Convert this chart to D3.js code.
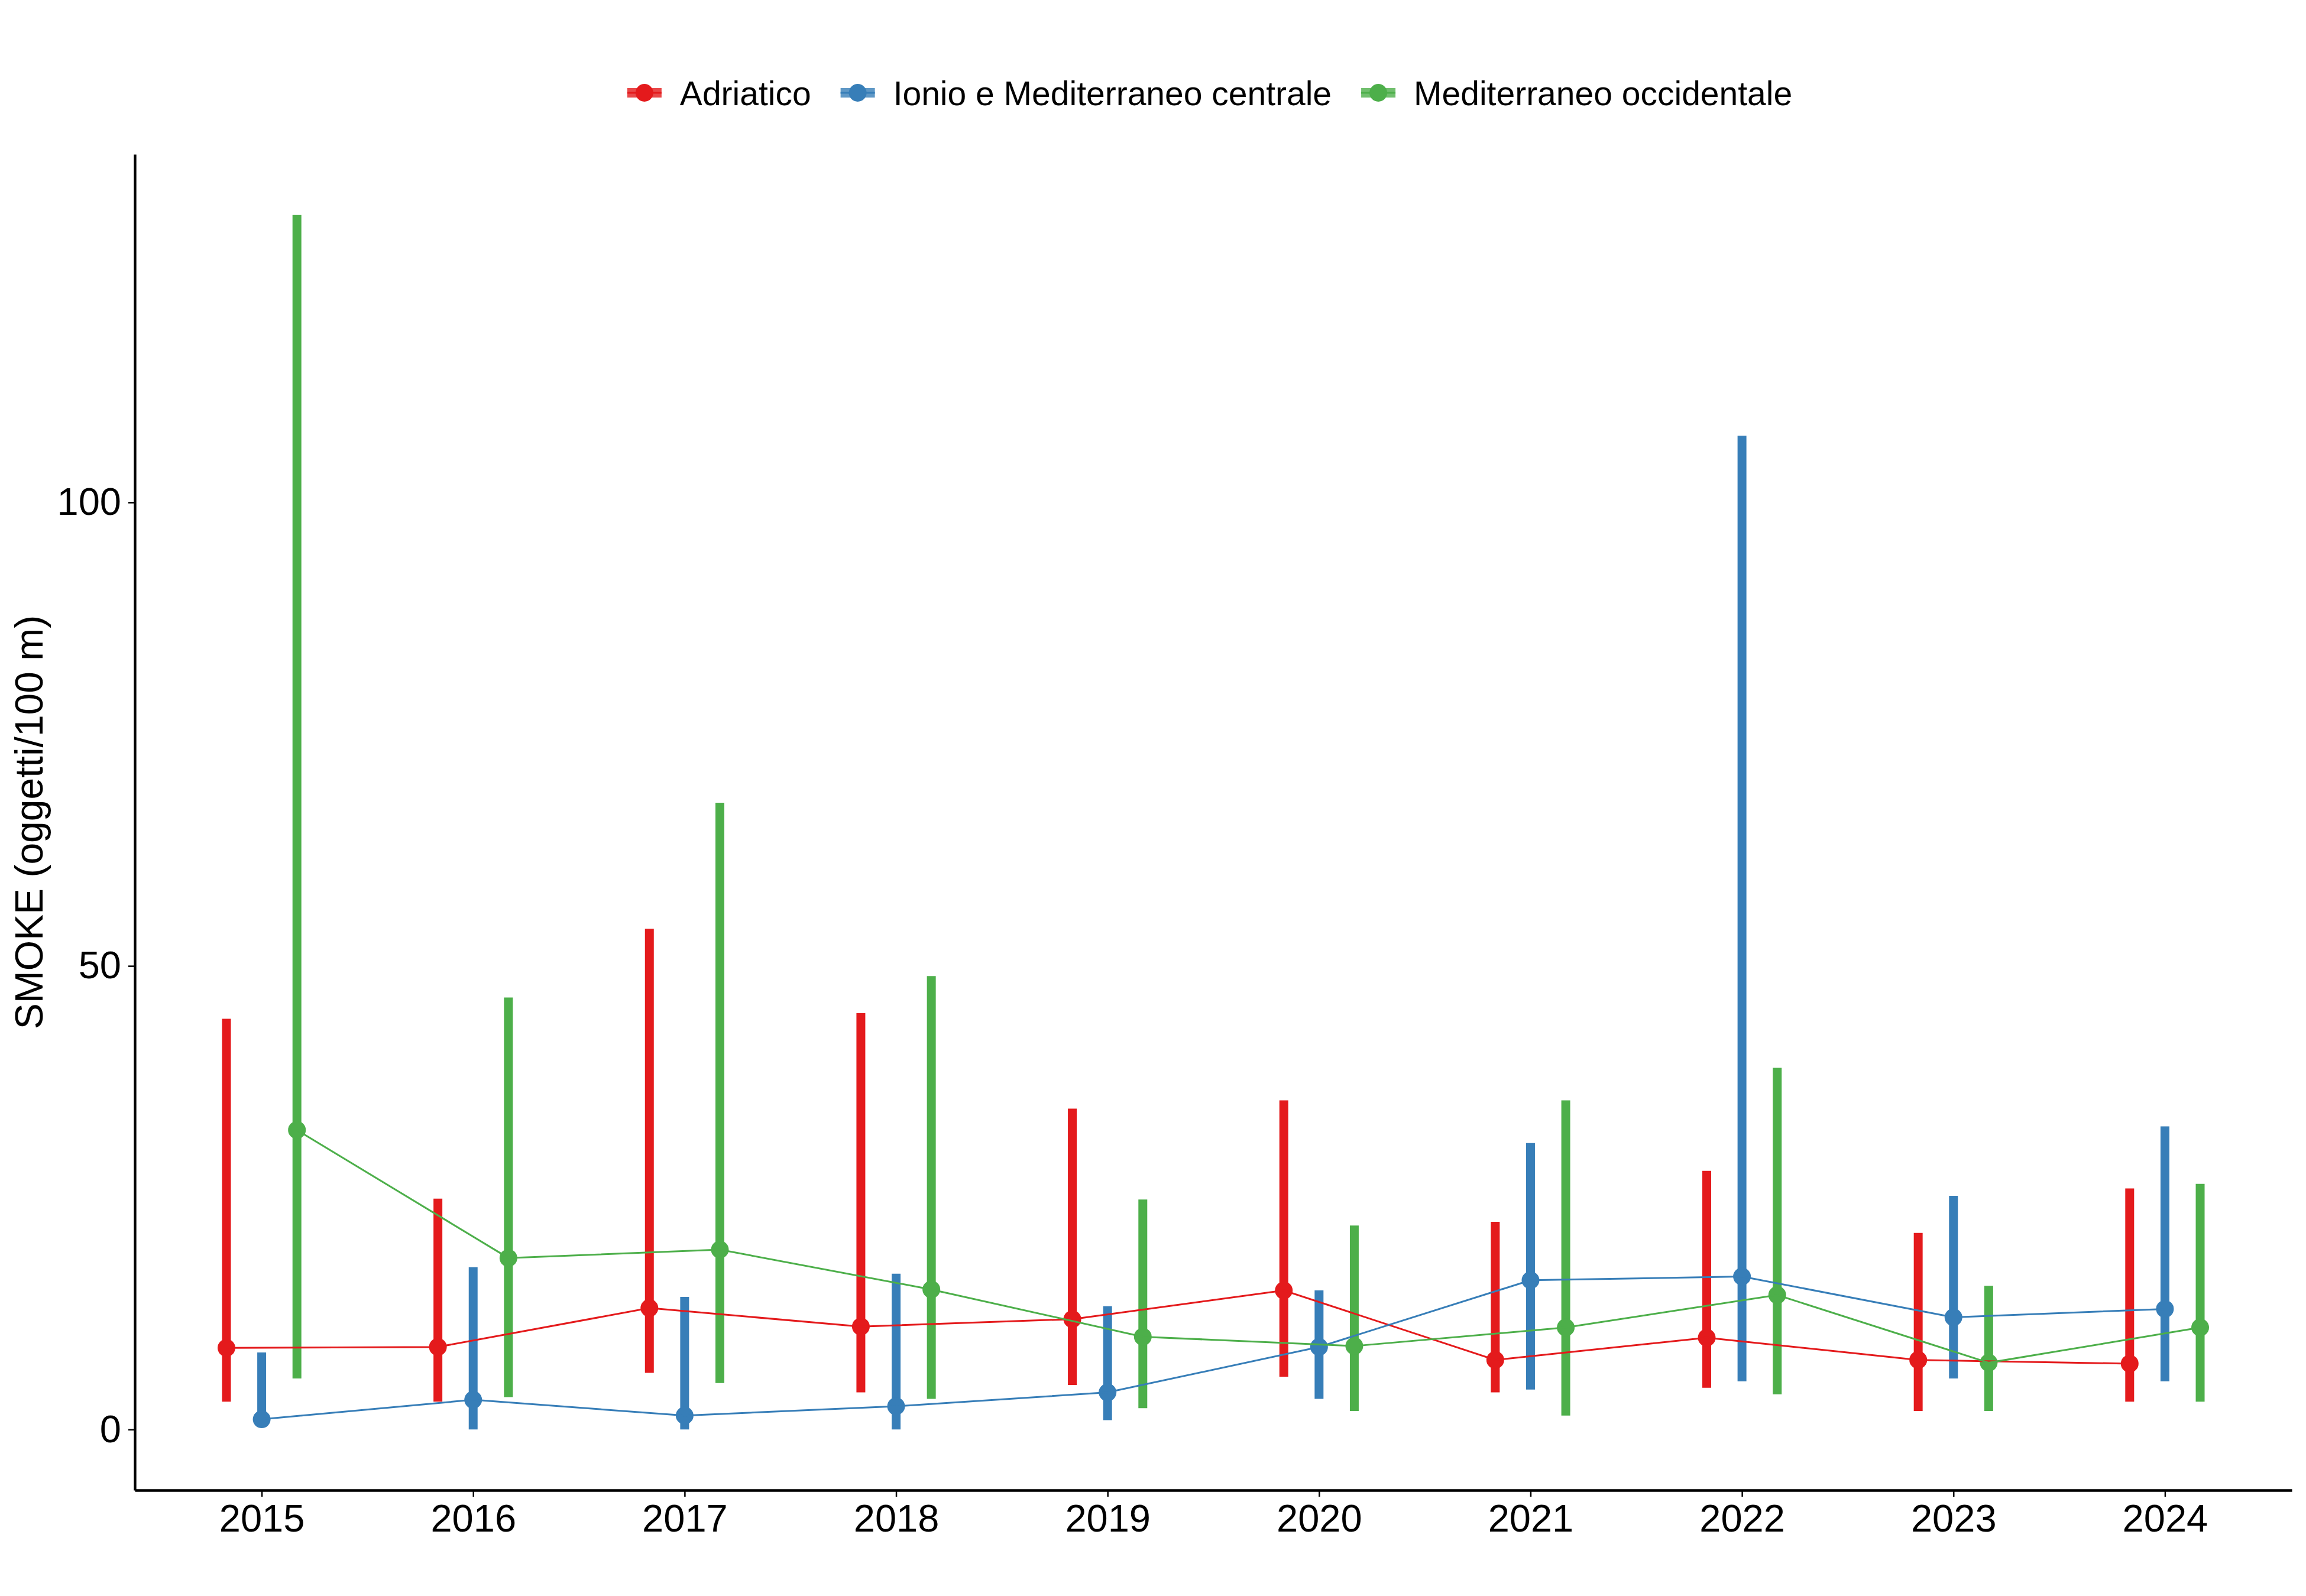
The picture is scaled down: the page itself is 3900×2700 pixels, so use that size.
<!DOCTYPE html>
<html lang="it">
<head>
    <meta charset="UTF-8">
    <title>SMOKE per regione</title>
    <script src="https://d3js.org/d3.v7.min.js"></script>
    <style>
        body { margin: 0; background: #fff; }
        svg { display: block; }
        text { font-family: "Liberation Sans", Arial, sans-serif; fill: #000; }
    </style>
</head>
<body>
    <div id="chart"></div>
    <script>
        // data
        const years = [2015, 2016, 2017, 2018, 2019, 2020, 2021, 2022, 2023, 2024];
        const regions = ["Adriatico", "Ionio e Mediterraneo centrale", "Mediterraneo occidentale"];
        const colors = ["#E41A1C", "#377EB8", "#4DAF4A"];

        const adriaticoMean = [8.8, 8.9, 13.1, 11.1, 11.9, 15.0, 7.5, 9.9, 7.5, 7.1];
        const adriaticoLow  = [3.0, 3.0, 6.1, 4.0, 4.8, 5.7, 4.0, 4.5, 2.0, 3.0];
        const adriaticoHigh = [44.3, 24.9, 54.0, 44.9, 34.6, 35.5, 22.4, 27.9, 21.2, 26.0];

        const ionioMean = [1.1, 3.2, 1.5, 2.5, 4.0, 8.9, 16.1, 16.5, 12.1, 13.0];
        const ionioLow  = [0.6, 0, 0, 0, 1.0, 3.3, 4.3, 5.2, 5.5, 5.2];
        const ionioHigh = [8.3, 17.5, 14.3, 16.8, 13.3, 15.0, 30.9, 107.2, 25.2, 32.7];

        const occMean = [32.3, 18.5, 19.4, 15.1, 10.0, 9.0, 11.0, 14.5, 7.2, 11.0];
        const occLow  = [5.5, 3.5, 5.0, 3.3, 2.3, 2.0, 1.5, 3.8, 2.0, 3.0];
        const occHigh = [131.0, 46.6, 67.6, 48.9, 24.8, 22.0, 35.5, 39.0, 15.5, 26.5];

        const yTicks = [0, 50, 100];
        const yTitle = "SMOKE (oggetti/100 m)";

        const series = [
            { name: regions[0], mean: adriaticoMean, low: adriaticoLow, high: adriaticoHigh },
            { name: regions[1], mean: ionioMean, low: ionioLow, high: ionioHigh },
            { name: regions[2], mean: occMean, low: occLow, high: occHigh }
        ];

        const W = 3900, H = 2700;
        const margin = { left: 228, right: 3876, top: 261, bottom: 2521 };

        const svg = d3.select('#chart').append('svg')
            .attr('width', W).attr('height', H);

        const x = d3.scalePoint().domain(years).range([margin.left, margin.right]).padding(0.6);
        const dodge = x.step() / 6;

        const allVals = series.flatMap(s => s.low.concat(s.high));
        const lo = d3.min(allVals), hi = d3.max(allVals);
        const pad = (hi - lo) * 0.05;
        const y = d3.scaleLinear().domain([lo - pad, hi + pad]).range([margin.bottom, margin.top]);

        const fontSize = 65;

        // x axis
        const gx = svg.append('g')
            .attr('transform', `translate(0,${margin.bottom})`)
            .call(d3.axisBottom(x).tickSize(11).tickSizeOuter(0).tickPadding(13));
        gx.select('.domain').attr('stroke-width', 4.3);
        gx.selectAll('.tick line').attr('stroke-width', 2.5);
        gx.selectAll('.tick text').style('font-size', fontSize + 'px')
            .style('font-family', '"Liberation Sans", Arial, sans-serif');

        // y axis
        const gy = svg.append('g')
            .attr('transform', `translate(${margin.left},0)`)
            .call(d3.axisLeft(y).tickValues(yTicks).tickSize(11).tickSizeOuter(0).tickPadding(12));
        gy.select('.domain').attr('stroke-width', 4.3);
        gy.selectAll('.tick line').attr('stroke-width', 2.5);
        gy.selectAll('.tick text').style('font-size', fontSize + 'px')
            .style('font-family', '"Liberation Sans", Arial, sans-serif');

        svg.append('text')
            .attr('transform', `translate(72,${(margin.top + margin.bottom) / 2}) rotate(-90)`)
            .attr('text-anchor', 'middle')
            .style('font-size', '66px')
            .text(yTitle);

        const px = (i, j) => x(years[j]) + (i - 1) * dodge;

        // ranges + points
        series.forEach((s, i) => {
            const g = svg.append('g');
            g.selectAll('line')
                .data(years)
                .enter().append('line')
                .attr('x1', (d, j) => px(i, j))
                .attr('x2', (d, j) => px(i, j))
                .attr('y1', (d, j) => y(s.low[j]))
                .attr('y2', (d, j) => y(s.high[j]))
                .attr('stroke', colors[i])
                .attr('stroke-width', 15);
            g.selectAll('circle')
                .data(years)
                .enter().append('circle')
                .attr('cx', (d, j) => px(i, j))
                .attr('cy', (d, j) => y(s.mean[j]))
                .attr('r', 15)
                .attr('fill', colors[i]);
        });

        // connecting lines
        series.forEach((s, i) => {
            const line = d3.line()
                .x((d, j) => px(i, j))
                .y(d => y(d));
            svg.append('path')
                .datum(s.mean)
                .attr('d', line)
                .attr('fill', 'none')
                .attr('stroke', colors[i])
                .attr('stroke-width', 3);
        });

        // legend
        const legend = svg.append('g');
        const keyW = 58, keyGap = 31, itemGap = 50, legY = 157;
        let cx = 0;
        regions.forEach((r, i) => {
            const it = legend.append('g');
            it.append('rect')
                .attr('x', 0).attr('y', legY - 8)
                .attr('width', keyW).attr('height', 16)
                .attr('fill', colors[i]).attr('opacity', 0.8);
            it.append('line')
                .attr('x1', 0).attr('x2', keyW)
                .attr('y1', legY).attr('y2', legY)
                .attr('stroke', colors[i]).attr('stroke-width', 3);
            it.append('circle')
                .attr('cx', keyW / 2).attr('cy', legY).attr('r', 15)
                .attr('fill', colors[i]);
            const t = it.append('text')
                .attr('x', keyW + keyGap).attr('y', legY + 21)
                .style('font-size', '57px')
                .text(r);
            const w = keyW + keyGap + t.node().getComputedTextLength();
            it.attr('transform', `translate(${cx},0)`);
            cx += w + itemGap;
        });
        const totalW = cx - itemGap;
        legend.attr('transform', `translate(${2046 - totalW / 2},0)`);
    </script>
</body>
</html>
